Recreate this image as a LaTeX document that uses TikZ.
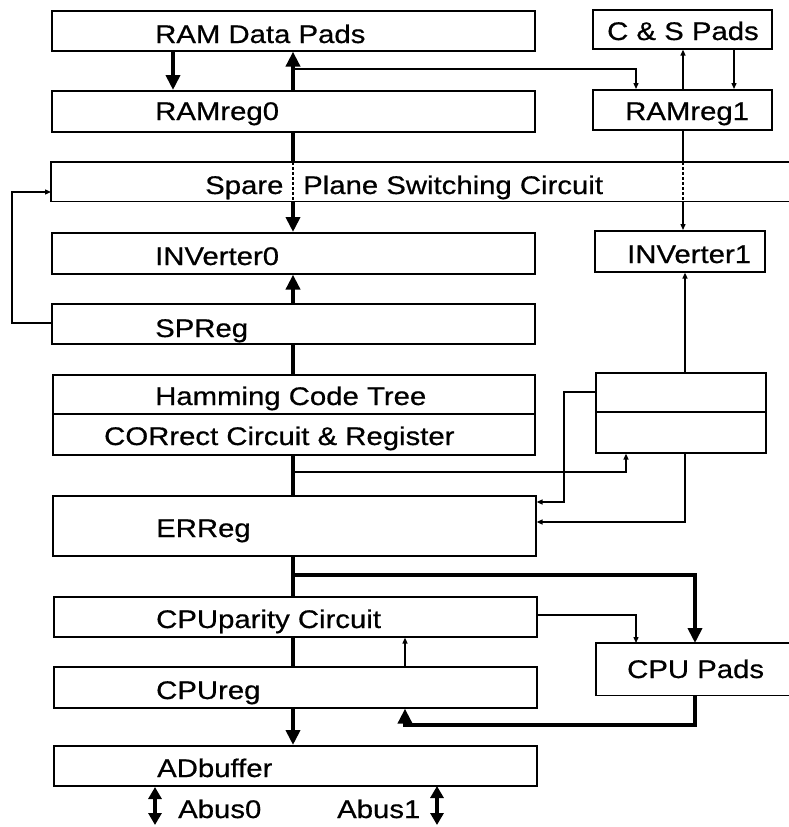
\documentclass[tikz,border=0pt]{standalone}
\usepackage{fontspec}
\setmainfont[FakeStretch=1.15,FakeBold=0.6]{Liberation Sans}
\usetikzlibrary{arrows.meta}
\begin{document}
\begin{tikzpicture}[x=1pt,y=-1pt,
  box/.style={draw,line width=1.6pt,anchor=north west,inner sep=0pt},
  openbox/.style={draw=none,anchor=north west,inner sep=0pt},
  lbl/.style={anchor=base west,inner sep=0pt,font=\fontsize{25.5}{30}\selectfont},
  thinln/.style={line width=1.3pt},
  thickln/.style={line width=4pt},
  tnarrow/.style={thinln,-{Triangle[width=5pt,length=6pt]}},
  tharrow/.style={thickln,-{Triangle[width=14pt,length=15pt]}},
  dblarrow/.style={thickln,{Triangle[width=13pt,length=12pt]}-{Triangle[width=13pt,length=12pt]}}]
\useasboundingbox (0,0) rectangle (789,827);
\fill[white] (0,0) rectangle (789,827);
% boxes
\node[box,minimum width=483pt,minimum height=40pt] (ramdata) at (51,10) {};
\node[box,minimum width=179pt,minimum height=39pt] (cspads) at (592,9) {};
\node[box,minimum width=483pt,minimum height=41pt] (ramreg0) at (51,90) {};
\node[box,minimum width=179pt,minimum height=40pt] (ramreg1) at (592,89) {};
\node[openbox,minimum width=738pt,minimum height=39pt] (spare) at (51,162) {};
\draw[line width=1.6pt] (spare.north east) -- (spare.north west) -- (spare.south west) -- (spare.south east);
\node[box,minimum width=483pt,minimum height=41pt] (inv0) at (51,232) {};
\node[box,minimum width=170pt,minimum height=41pt] (inv1) at (594,230) {};
\node[box,minimum width=483pt,minimum height=40pt] (spreg) at (51,303) {};
\node[box,minimum width=482pt,minimum height=39pt] (ham) at (52,374) {};
\node[box,minimum width=482pt,minimum height=41pt] (cor) at (52,413) {};
\node[box,minimum width=170pt,minimum height=39pt] (rtop) at (595,372) {};
\node[box,minimum width=170pt,minimum height=41pt] (rbot) at (595,411) {};
\node[box,minimum width=483pt,minimum height=60pt] (erreg) at (52,495) {};
\node[box,minimum width=483pt,minimum height=40pt] (cpupar) at (53,596) {};
\node[box,minimum width=483pt,minimum height=41pt] (cpureg) at (53,666) {};
\node[box,minimum width=483pt,minimum height=40pt] (adbuf) at (53,745) {};
\node[openbox,minimum width=193pt,minimum height=52pt] (cpupads) at (596,643) {};
\draw[line width=1.6pt] (cpupads.north east) -- (cpupads.north west) -- (cpupads.south west) -- (cpupads.south east);
% labels
\node[lbl] (l1) at (155,43) {RAM Data Pads};
\node[lbl] (l2) at (607,40) {C \& S Pads};
\node[lbl] (l3) at (155,120) {RAMreg0};
\node[lbl] (l4) at (625,120) {RAMreg1};
\node[lbl] (l5) at (205,194) {Spare};
\node[lbl] (l6) at (303,194) {Plane Switching Circuit};
\node[lbl] (l7) at (155,265) {INVerter0};
\node[lbl] (l8) at (627,263) {INVerter1};
\node[lbl] (l9) at (155,337) {SPReg};
\node[lbl] (l10) at (155,405) {Hamming Code Tree};
\node[lbl] (l11) at (104,445) {CORrect Circuit \& Register};
\node[lbl] (l12) at (156,537) {ERReg};
\node[lbl] (l13) at (156,628) {CPUparity Circuit};
\node[lbl] (l14) at (627,678) {CPU Pads};
\node[lbl] (l15) at (156,699) {CPUreg};
\node[lbl] (l16) at (157,777) {ADbuffer};
\node[lbl] (l17) at (178,818) {Abus0};
\node[lbl] (l18) at (337,818) {Abus1};
% x positions
\coordinate (xA) at (173,0);
\coordinate (xB) at (293,0);
\coordinate (xC) at (636,0);
\coordinate (xD) at (683,0);
\coordinate (xE) at (734,0);
\coordinate (xF) at (626,0);
\coordinate (xG) at (685,0);
\coordinate (xH) at (564,0);
\coordinate (xI) at (12,0);
\coordinate (xJ) at (695,0);
\coordinate (xK) at (405,0);
\coordinate (ab0top) at (155,787);
\coordinate (ab0bot) at (155,825);
\coordinate (ab1top) at (437,786);
\coordinate (ab1bot) at (437,825);
% top
\draw[tharrow] (ramdata.south -| xA) -- (ramreg0.north -| xA);
\draw[tharrow] (ramreg0.north -| xB) -- (ramdata.south -| xB);
\draw[tnarrow] (xB |- 0,69) -- (xC |- 0,69) -- (ramreg1.north -| xC);
\draw[tnarrow] (ramreg1.north -| xD) -- (cspads.south -| xD);
\draw[tnarrow] (cspads.south -| xE) -- (ramreg1.north -| xE);
% through spare
\draw[thickln] (ramreg0.south -| xB) -- (spare.north -| xB);
\draw[line width=1.2pt,dash pattern=on 3pt off 2pt] (spare.north -| xB) -- (spare.south -| xB);
\draw[tharrow] (spare.south -| xB) -- (inv0.north -| xB);
\draw[thinln] (ramreg1.south -| xD) -- (spare.north -| xD);
\draw[line width=1.2pt,dash pattern=on 3pt off 2pt] (spare.north -| xD) -- (spare.south -| xD);
\draw[tnarrow] (spare.south -| xD) -- (inv1.north -| xD);
% SPReg feedback
\draw[tnarrow] (spreg.west |- 0,323) -- (xI |- 0,323) -- (xI |- 0,192) -- (spare.west |- 0,192);
\draw[tharrow] (spreg.north -| xB) -- (inv0.south -| xB);
\draw[thickln] (spreg.south -| xB) -- (ham.north -| xB);
\draw[thickln] (cor.south -| xB) -- (erreg.north -| xB);
\draw[tnarrow] (xB |- 0,472) -- (xF |- 0,472) -- (rbot.south -| xF);
\draw[tnarrow] (rtop.north -| xG) -- (inv1.south -| xG);
\draw[tnarrow] (rtop.west |- 0,392) -- (xH |- 0,392) -- (xH |- 0,502) -- (erreg.east |- 0,502);
\draw[tnarrow] (rbot.south -| xG) -- (xG |- 0,522) -- (erreg.east |- 0,522);
% lower part
\draw[thickln] (erreg.south -| xB) -- (cpupar.north -| xB);
\draw[tharrow] (xB |- 0,575) -- (xJ |- 0,575) -- (cpupads.north -| xJ);
\draw[tnarrow] (cpupar.east |- 0,615) -- (xC |- 0,615) -- (cpupads.north -| xC);
\draw[tnarrow] (cpureg.north -| xK) -- (cpupar.south -| xK);
\draw[thickln] (cpupar.south -| xB) -- (cpureg.north -| xB);
\draw[tharrow] (cpureg.south -| xB) -- (adbuf.north -| xB);
\draw[tharrow] (cpupads.south -| xJ) -- (xJ |- 0,725) -- (xK |- 0,725) -- (cpureg.south -| xK);
\draw[dblarrow] (ab0top) -- (ab0bot);
\draw[dblarrow] (ab1top) -- (ab1bot);
\end{tikzpicture}
\end{document}
